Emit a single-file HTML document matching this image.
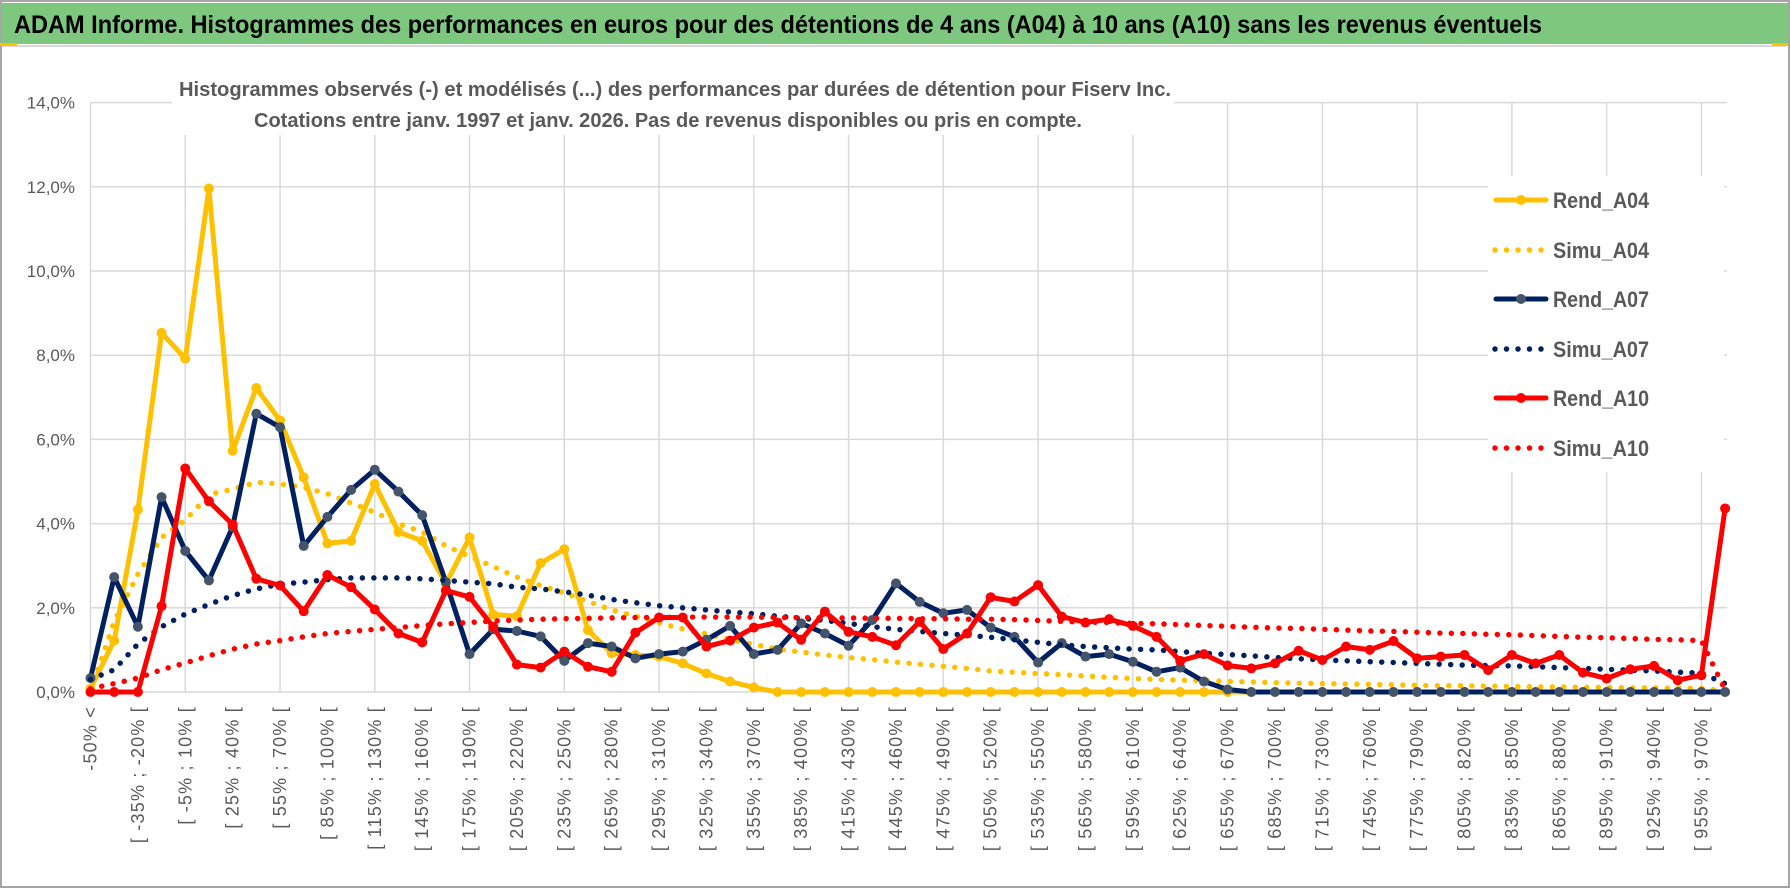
<!DOCTYPE html>
<html><head><meta charset="utf-8">
<style>
html,body{margin:0;padding:0;background:#fff;}
svg{display:block;font-family:"Liberation Sans",sans-serif;}
</style></head>
<body>
<svg id="chart" width="1790" height="888" viewBox="0 0 1790 888">
  <rect x="0" y="0" width="1790" height="888" fill="#fff"/>
  <rect x="1" y="1" width="1788" height="886" fill="none" stroke="#a6a6a6" stroke-width="2"/>
  <rect x="2" y="3" width="1786" height="41" fill="#7DC77F"/>
  <line x1="2" y1="46" x2="1786" y2="46" stroke="#d9d9d9" stroke-width="2"/>
  <rect x="0" y="43" width="17" height="3" fill="#FFC000"/>
  <rect x="1772" y="43" width="16" height="3" fill="#FFC000"/>
  <text x="14" y="33" font-size="25" font-weight="bold" fill="#000" textLength="1528" lengthAdjust="spacingAndGlyphs">ADAM Informe. Histogrammes des performances en euros pour des détentions de 4 ans (A04) à 10 ans (A10) sans les revenus éventuels</text>
  <g id="grid"></g>
  <g id="ylabels"></g>
  <g id="xlabels"></g>
  <g id="series"></g>
  <rect x="172" y="62" width="1002" height="73" fill="#fff"/>
  <text x="675" y="96" font-size="20" font-weight="bold" fill="#595959" text-anchor="middle" textLength="992" lengthAdjust="spacingAndGlyphs">Histogrammes observés (-) et modélisés (...) des performances par durées de détention pour Fiserv Inc.</text>
  <text x="668" y="127" font-size="20" font-weight="bold" fill="#595959" text-anchor="middle" textLength="828" lengthAdjust="spacingAndGlyphs">Cotations entre janv. 1997 et janv. 2026. Pas de revenus disponibles ou pris en compte.</text>
  <g id="legend"></g>
</svg>
<script>
const categories = (function(){ const c=["-50% <"]; for(let k=1;k<70;k++){ const a=-50+15*(k-1); c.push("[ "+a+"% ; "+(a+15)+"% ["); } return c; })();
const yTicks = [0,2,4,6,8,10,12,14];
const yTickLabels = ["0,0%","2,0%","4,0%","6,0%","8,0%","10,0%","12,0%","14,0%"];
const seriesNames = ["Rend_A04","Simu_A04","Rend_A07","Simu_A07","Rend_A10","Simu_A10"];
const rendA04 = [0.08,1.22,4.33,8.53,7.92,11.96,5.73,7.22,6.45,5.10,3.53,3.59,4.94,3.80,3.59,2.57,3.67,1.84,1.80,3.06,3.39,1.47,0.92,0.88,0.84,0.68,0.44,0.25,0.11,0,0,0,0,0,0,0,0,0,0,0,0,0,0,0,0,0,0,0,0,0,0,0,0,0,0,0,0,0,0,0,0,0,0,0,0,0,0,0,0,0];
const simuA04 = [0.02,1.67,2.8,3.67,4.08,4.69,4.82,4.98,4.94,4.86,4.71,4.49,4.27,4.0,3.8,3.47,3.22,2.98,2.73,2.53,2.35,2.15,1.95,1.8,1.64,1.5,1.38,1.25,1.13,1.02,0.95,0.88,0.82,0.77,0.71,0.66,0.61,0.56,0.5,0.47,0.44,0.41,0.38,0.35,0.32,0.3,0.28,0.27,0.25,0.24,0.22,0.21,0.2,0.19,0.18,0.17,0.16,0.15,0.15,0.14,0.13,0.12,0.12,0.11,0.11,0.1,0.1,0.09,0.09,0.02];
const rendA07 = [0.33,2.73,1.55,4.63,3.35,2.65,3.92,6.61,6.29,3.47,4.16,4.80,5.28,4.76,4.20,2.61,0.90,1.49,1.45,1.32,0.74,1.16,1.08,0.80,0.90,0.96,1.24,1.57,0.90,1.0,1.63,1.39,1.10,1.71,2.58,2.14,1.87,1.95,1.53,1.31,0.70,1.16,0.84,0.90,0.72,0.48,0.58,0.25,0.06,0,0,0,0,0,0,0,0,0,0,0,0,0,0,0,0,0,0,0,0,0];
const simuA07 = [0.3,0.53,1.14,1.55,1.85,2.08,2.29,2.45,2.56,2.61,2.67,2.71,2.71,2.71,2.69,2.65,2.61,2.57,2.49,2.45,2.38,2.3,2.2,2.12,2.05,2.0,1.95,1.9,1.86,1.8,1.75,1.7,1.63,1.55,1.49,1.44,1.39,1.35,1.3,1.24,1.18,1.12,1.08,1.05,1.02,1.0,0.96,0.92,0.89,0.86,0.82,0.79,0.76,0.74,0.72,0.7,0.68,0.66,0.64,0.63,0.62,0.6,0.58,0.56,0.54,0.52,0.5,0.47,0.45,0.2];
const rendA10 = [0,0,0,2.04,5.31,4.53,3.98,2.69,2.53,1.92,2.78,2.49,1.96,1.39,1.18,2.41,2.26,1.55,0.65,0.58,0.96,0.60,0.48,1.41,1.77,1.77,1.08,1.22,1.53,1.65,1.24,1.91,1.43,1.31,1.11,1.67,1.02,1.39,2.25,2.15,2.54,1.79,1.65,1.73,1.57,1.31,0.74,0.90,0.63,0.56,0.68,0.98,0.76,1.08,1.0,1.21,0.80,0.84,0.88,0.52,0.88,0.68,0.88,0.46,0.32,0.54,0.62,0.28,0.40,4.36];
const simuA10 = [0.08,0.2,0.33,0.53,0.69,0.86,1.02,1.14,1.22,1.31,1.39,1.44,1.49,1.53,1.58,1.62,1.65,1.69,1.71,1.73,1.74,1.75,1.76,1.77,1.77,1.78,1.78,1.78,1.78,1.77,1.77,1.76,1.76,1.75,1.75,1.74,1.74,1.73,1.73,1.72,1.7,1.68,1.66,1.65,1.63,1.62,1.6,1.58,1.56,1.54,1.52,1.51,1.49,1.47,1.45,1.44,1.42,1.4,1.39,1.37,1.36,1.34,1.32,1.3,1.29,1.27,1.25,1.24,1.22,0.05];

const NS="http://www.w3.org/2000/svg";
const X0=90.5, DX=23.69, Y0=692, PPU=42.1, XR=1727;
function xPos(i){ return X0+DX*i; }
function yPos(v){ return Y0-v*PPU; }
function mk(tag, attrs, parent){ const e=document.createElementNS(NS,tag); for(const k in attrs) e.setAttribute(k,attrs[k]); parent.appendChild(e); return e; }

const grid=document.getElementById('grid');
yTicks.forEach(function(t){
  const l=mk('line',{x1:X0,x2:XR,y1:yPos(t),y2:yPos(t),stroke:'#d9d9d9','stroke-width':1.5},grid);
  
  
});
for(let i=0;i<categories.length;i+=4){
  const l=mk('line',{x1:xPos(i),x2:xPos(i),y1:yPos(14),y2:Y0,stroke:'#d9d9d9','stroke-width':1.5},grid);
  
  
}
const yl=document.getElementById('ylabels');
yTicks.forEach(function(t,k){
  const e=mk('text',{x:75,y:yPos(t)+6,'text-anchor':'end','font-size':17,fill:'#595959'},yl);
  e.textContent=yTickLabels[k];
  
  
});
const xl=document.getElementById('xlabels');
for(let i=0;i<categories.length;i+=2){
  const x=xPos(i)+6, y=706;
  const e=mk('text',{x:x,y:y,'text-anchor':'end','font-size':18,fill:'#595959','letter-spacing':'1.2',transform:'rotate(-90 '+x+' '+y+')'},xl);
  e.textContent=categories[i];
  
  
}
const sg=document.getElementById('series');
function drawSeries(vals,color,dotted,markerColor,name){
  const g=mk('g',{},sg);
  
  
  const pts=vals.map(function(v,i){return xPos(i).toFixed(1)+','+yPos(v).toFixed(1);}).join(' ');
  const attrs={points:pts,fill:'none',stroke:color,'stroke-linejoin':'round','stroke-linecap':'round'};
  if(dotted){attrs['stroke-width']=5.5;attrs['stroke-dasharray']='0 11.5';}else{attrs['stroke-width']=5;}
  const pl=mk('polyline',attrs,g);
  
  
  if(!dotted){
    vals.forEach(function(v,i){
      const c=mk('circle',{cx:xPos(i),cy:yPos(v),r:5,fill:markerColor},g);
      
      
    });
  }
}
drawSeries(rendA04,'#FFC000',false,'#FFC000','rend-a04');
drawSeries(simuA04,'#FFC000',true,null,'simu-a04');
drawSeries(rendA07,'#002060',false,'#44546A','rend-a07');
drawSeries(simuA07,'#002060',true,null,'simu-a07');
drawSeries(rendA10,'#FF0000',false,'#FF0000','rend-a10');
drawSeries(simuA10,'#FF0000',true,null,'simu-a10');

const lg=document.getElementById('legend');
const lb=mk('rect',{x:1488,y:176,width:236,height:296,fill:'#fff'},lg);


const legColors=['#FFC000','#FFC000','#002060','#002060','#FF0000','#FF0000'];
const legMarker=['#FFC000',null,'#44546A',null,'#FF0000',null];
const legY=[200,250,299,349,398,448];
seriesNames.forEach(function(n,k){
  const g=mk('g',{},lg);
  
  
  const y=legY[k];
  if(legMarker[k]){
    mk('line',{x1:1496,x2:1546,y1:y,y2:y,stroke:legColors[k],'stroke-width':5,'stroke-linecap':'round'},g);
    mk('circle',{cx:1521,cy:y,r:5,fill:legMarker[k]},g);
  } else {
    mk('line',{x1:1495,x2:1548,y1:y,y2:y,stroke:legColors[k],'stroke-width':5.5,'stroke-linecap':'round','stroke-dasharray':'0 11.5'},g);
  }
  const t=mk('text',{x:1553,y:y+8,'font-size':22,'font-weight':'bold',fill:'#595959',textLength:96,lengthAdjust:'spacingAndGlyphs'},g);
  t.textContent=n;
  
  
});
</script>
</body></html>
